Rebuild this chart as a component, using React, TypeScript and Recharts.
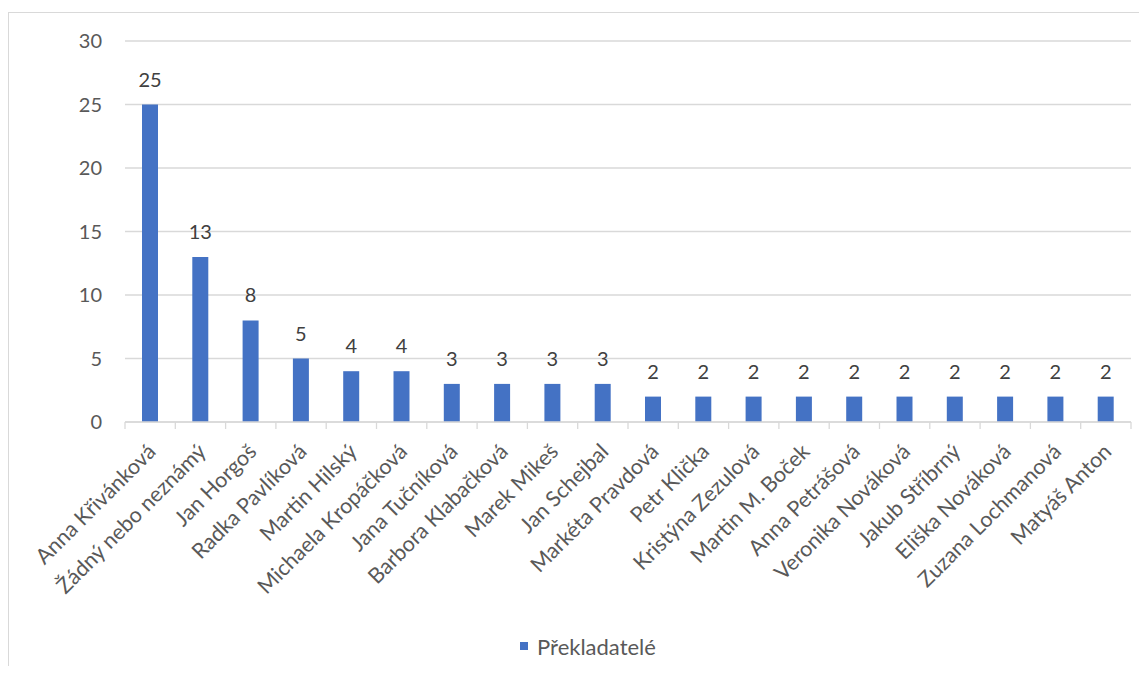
import { Bar, BarChart, CartesianGrid, LabelList, Legend, XAxis, YAxis } from "recharts";

const translators = [
  "Anna Křivánková",
  "Žádný nebo neznámý",
  "Jan Horgoš",
  "Radka Pavlíková",
  "Martin Hilský",
  "Michaela Kropáčková",
  "Jana Tučníková",
  "Barbora Klabačková",
  "Marek Mikeš",
  "Jan Schejbal",
  "Markéta Pravdová",
  "Petr Klička",
  "Kristýna Zezulová",
  "Martin M. Boček",
  "Anna Petrášová",
  "Veronika Nováková",
  "Jakub Stříbrný",
  "Eliška Nováková",
  "Zuzana Lochmanová",
  "Matyáš Anton",
];

const bookCounts = [25, 13, 8, 5, 4, 4, 3, 3, 3, 3, 2, 2, 2, 2, 2, 2, 2, 2, 2, 2];

const yTicks = [0, 5, 10, 15, 20, 25, 30];

const SERIES_NAME = "Překladatelé";

const data = translators.map((name, i) => ({ name, count: bookCounts[i] }));

const FONT = "Lato, 'Open Sans', sans-serif";
const TEXT = "#595959";
const LINE = "#d9d9d9";
const BLUE = "#4472C4";

const CHART_W = 1130;
const CHART_H = 657;
const MARGIN = { top: 28, right: 8, bottom: 11, left: 0 };
const Y_AXIS_W = 116;
const PLOT_W = CHART_W - MARGIN.left - MARGIN.right - Y_AXIS_W;
const STEP = PLOT_W / translators.length;

// Category label rotated 45° plus the tick marks on the category boundaries.
function CategoryTick(props: any) {
  const { x, y, payload, index } = props;
  const left = x - STEP / 2;
  const right = x + STEP / 2;
  const tx = x + 7;
  const ty = y + 31;
  return (
    <g>
      <line x1={left} x2={left} y1={y} y2={y + 7} stroke={LINE} strokeWidth={1.3} />
      {index === translators.length - 1 && (
        <line x1={right} x2={right} y1={y} y2={y + 7} stroke={LINE} strokeWidth={1.3} />
      )}
      <text
        x={tx}
        y={ty}
        transform={`rotate(-45, ${tx}, ${ty})`}
        textAnchor="end"
        fill={TEXT}
        fontFamily={FONT}
        fontSize={21.5}
      >
        {payload.value}
      </text>
    </g>
  );
}

function SeriesLegend() {
  return (
    <div
      style={{
        display: "flex",
        alignItems: "center",
        justifyContent: "center",
        height: 26,
        fontFamily: FONT,
        fontSize: 22,
        color: TEXT,
      }}
    >
      <span style={{ width: 8, height: 8, background: BLUE, marginRight: 9, marginLeft: 36 }} />
      <span>{SERIES_NAME}</span>
    </div>
  );
}

export default function App() {
  return (
    <div style={{ paddingTop: 4, height: 658, boxSizing: "border-box" }}>
      <div
        style={{
          width: 1139,
          height: 654,
          borderLeft: `1px solid ${LINE}`,
          borderTop: `1px solid ${LINE}`,
          background: "#fff",
        }}
      >
        <BarChart width={CHART_W} height={CHART_H} data={data} margin={MARGIN}>
          <CartesianGrid vertical={false} stroke={LINE} strokeWidth={1.3} />
          <XAxis
            dataKey="name"
            interval={0}
            height={211}
            tickSize={0}
            tickMargin={0}
            tickLine={false}
            axisLine={{ stroke: LINE, strokeWidth: 1.3 }}
            tick={<CategoryTick />}
          />
          <YAxis
            width={Y_AXIS_W}
            domain={[0, 30]}
            ticks={yTicks}
            axisLine={false}
            tickLine={false}
            tickSize={0}
            tickMargin={23}
            tick={{ fill: TEXT, fontFamily: FONT, fontSize: 20 }}
          />
          <Legend verticalAlign="bottom" height={26} content={<SeriesLegend />} />
          <Bar dataKey="count" name={SERIES_NAME} fill={BLUE} barSize={16} isAnimationActive={false}>
            <LabelList
              dataKey="count"
              position="top"
              offset={18}
              fill="#404040"
              fontFamily={FONT}
              fontSize={20}
            />
          </Bar>
        </BarChart>
      </div>
    </div>
  );
}
